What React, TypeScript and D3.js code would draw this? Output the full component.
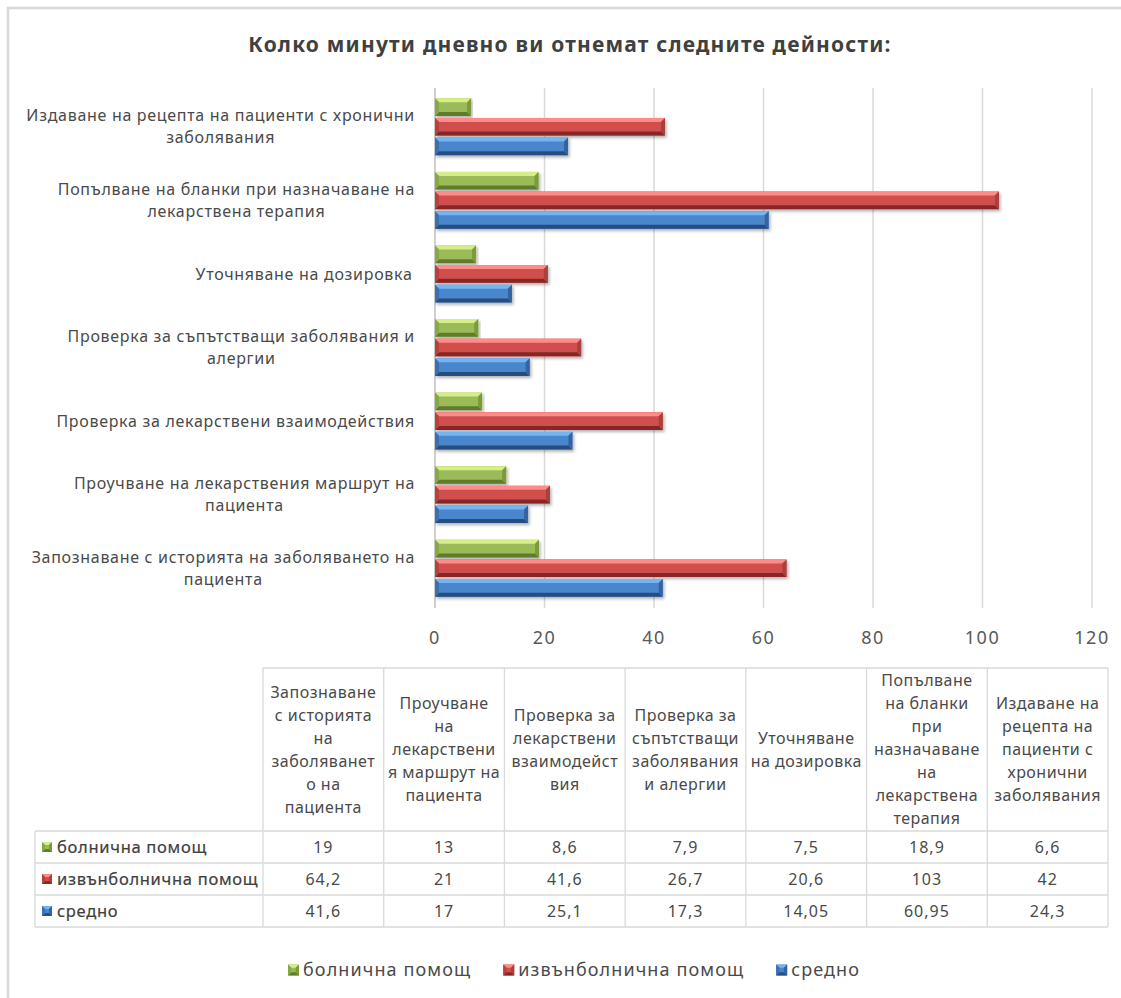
import React from "react";
import * as d3 from "d3";

const categories = [
  "Запознаване с историята на заболяването на пациента",
  "Проучване на лекарствения маршрут на пациента",
  "Проверка за лекарствени взаимодействия",
  "Проверка за съпътстващи заболявания и алергии",
  "Уточняване на дозировка",
  "Попълване на бланки при назначаване на лекарствена терапия",
  "Издаване на рецепта на пациенти с хронични заболявания",
];

const axisLabelLines = [
  ["Запознаване с историята на заболяването на", "пациента"],
  ["Проучване на лекарствения маршрут на", "пациента"],
  ["Проверка за лекарствени взаимодействия"],
  ["Проверка за съпътстващи заболявания и", "алергии"],
  ["Уточняване на дозировка "],
  ["Попълване на бланки при назначаване на", "лекарствена терапия"],
  ["Издаване на рецепта на пациенти с хронични", "заболявания"],
];

const tableHeaderLines = [
  ["Запознаване", "с историята", "на", "заболяванет", "о на", "пациента"],
  ["Проучване", "на", "лекарствени", "я маршрут на", "пациента"],
  ["Проверка за", "лекарствени", "взаимодейст", "вия"],
  ["Проверка за", "съпътстващи", "заболявания", "и алергии"],
  ["Уточняване", "на дозировка"],
  ["Попълване", "на бланки", "при", "назначаване", "на", "лекарствена", "терапия"],
  ["Издаване на", "рецепта на", "пациенти с", "хронични", "заболявания"],
];

const seriesNames = ["болнична помощ", "извънболнична помощ", "средно"];
const hospital = [19, 13, 8.6, 7.9, 7.5, 18.9, 6.6];
const outpatient = [64.2, 21, 41.6, 26.7, 20.6, 103, 42];
const average = [41.6, 17, 25.1, 17.3, 14.05, 60.95, 24.3];
const xTicks = [0, 20, 40, 60, 80, 100, 120];
const title = "Колко минути дневно ви отнемат следните дейности:";

const seriesValues = [hospital, outpatient, average];

const palettes = [
  { light: "#d6ee86", base: "#9bbb59", mid: "#86a845", dark: "#607c2c", side: "#7a9a3a" },
  { light: "#ff8a87", base: "#d0504d", mid: "#b8403d", dark: "#872826", side: "#a8403c" },
  { light: "#74b4f2", base: "#4a86cc", mid: "#3b6fb0", dark: "#284d80", side: "#36649f" },
];

const FONT = "'Noto Sans', 'DejaVu Sans', sans-serif";
const TEXT = "#404040";
const LABEL = "#4a4a4a";

let _ctx: CanvasRenderingContext2D | null = null;
function measure(text: string, size: number, ls = 0, weight = "normal") {
  if (!_ctx) {
    const c = document.createElement("canvas");
    _ctx = c.getContext("2d");
  }
  const base = _ctx
    ? ((_ctx.font = `${weight} ${size}px 'Noto Sans'`), _ctx.measureText(text).width)
    : text.length * size * 0.55;
  return base + ls * text.length;
}

const fmt = (v: number) => String(v).replace(".", ",");

function BevelBar({ x0, x1, y, h, p, b = 4 }: any) {
  const y0 = y;
  const y1 = y + h;
  const bb = Math.min(b, (x1 - x0) / 2);
  return (
    <g filter="url(#shadow)">
      <rect x={x0} y={y0} width={x1 - x0} height={h} fill={p.base} />
      <polygon
        points={`${x0},${y0} ${x1},${y0} ${x1 - bb},${y0 + b} ${x0 + bb},${y0 + b}`}
        fill={p.light}
      />
      <polygon
        points={`${x0},${y1} ${x1},${y1} ${x1 - bb},${y1 - b} ${x0 + bb},${y1 - b}`}
        fill={p.dark}
      />
      <polygon
        points={`${x1},${y0} ${x1},${y1} ${x1 - bb},${y1 - b} ${x1 - bb},${y0 + b}`}
        fill={p.side}
      />
      <polygon
        points={`${x0},${y0} ${x0},${y1} ${x0 + bb},${y1 - b} ${x0 + bb},${y0 + b}`}
        fill={p.mid}
      />
    </g>
  );
}

function Marker({ x, y, s, p }: any) {
  const b = s * 0.3;
  return (
    <g>
      <rect x={x} y={y} width={s} height={s} fill={p.base} />
      <polygon points={`${x},${y} ${x + s},${y} ${x + s - b},${y + b} ${x + b},${y + b}`} fill={p.light} />
      <polygon points={`${x},${y + s} ${x + s},${y + s} ${x + s - b},${y + s - b} ${x + b},${y + s - b}`} fill={p.dark} />
      <polygon points={`${x + s},${y} ${x + s},${y + s} ${x + s - b},${y + s - b} ${x + s - b},${y + b}`} fill={p.side} />
      <polygon points={`${x},${y} ${x},${y + s} ${x + b},${y + s - b} ${x + b},${y + b}`} fill={p.mid} />
    </g>
  );
}

export default function App() {
  const W = 1121;
  const H = 998;
  const plotLeft = 435;
  const plotRight = 1092;
  const plotTop = 90;
  const plotBottom = 605;

  const x = d3.scaleLinear().domain([0, 120]).range([plotLeft, plotRight]);
  const y = d3
    .scaleBand<string>()
    .domain([...categories].reverse())
    .range([plotTop, plotBottom])
    .paddingInner(0.226)
    .paddingOuter(0.113);
  const ys = d3
    .scaleBand<string>()
    .domain(seriesNames)
    .range([0, y.bandwidth()])
    .paddingInner(0.1);

  const labelRight = 415;
  const labelSize = 16;
  const labelLS = 0.7;
  const labelLH = 22;

  // table
  const tLeft = 35;
  const tColStart = 263;
  const tRight = 1108;
  const tHeadTop = 668;
  const tHeadBottom = 831;
  const rowH = 32;
  const cols = d3.scaleBand<string>().domain(categories).range([tColStart, tRight]);
  const rows = d3
    .scaleBand<string>()
    .domain(seriesNames)
    .range([tHeadBottom, tHeadBottom + rowH * seriesNames.length]);
  const tBottom = tHeadBottom + rowH * seriesNames.length;
  const grid = "#d9d9d9";
  const headSize = 16;
  const headLS = 0.5;
  const headLH = 23;

  // legend
  const legSize = 18;
  const legLS = 1.1;
  const legMarker = 11;
  const legGap = 4;
  const legSpacing = 32;
  const legWidths = seriesNames.map((s) => legMarker + legGap + measure(s, legSize, legLS));
  const legTotal = d3.sum(legWidths) + legSpacing * (seriesNames.length - 1);
  let legX = 574 - legTotal / 2;
  const legStarts = legWidths.map((w) => {
    const s = legX;
    legX += w + legSpacing;
    return s;
  });
  const legY = 970;

  return (
    <svg
      width={W}
      height={H}
      style={{ position: "absolute", left: 0, top: 0, display: "block", fontFamily: FONT }}
    >
      <defs>
        <filter id="shadow" x="-5%" y="-30%" width="110%" height="180%">
          <feDropShadow dx="1.5" dy="2" stdDeviation="1.5" floodColor="#000" floodOpacity="0.3" />
        </filter>
      </defs>
      <rect x={0} y={0} width={W} height={H} fill="#fff" />
      <rect x={8} y={8} width={W + 50} height={H + 50} fill="#fff" stroke={grid} strokeWidth={2.5} />

      <text
        x={570}
        y={52}
        textAnchor="middle"
        fontSize={21}
        fontWeight="bold"
        fill={TEXT}
        style={{ letterSpacing: "1.2px" }}
      >
        {title}
      </text>

      {/* gridlines */}
      {xTicks.map((t) => (
        <line
          key={t}
          x1={x(t)}
          x2={x(t)}
          y1={plotTop - 2}
          y2={plotBottom + 3}
          stroke={t === 0 ? "#bfbfbf" : "#d9d9d9"}
          strokeWidth={1.5}
        />
      ))}
      {xTicks.map((t) => (
        <text
          key={"t" + t}
          x={x(t)}
          y={644}
          textAnchor="middle"
          fontSize={18}
          fill="#595959"
          style={{ letterSpacing: "1.5px" }}
        >
          {t}
        </text>
      ))}

      {/* category labels */}
      {categories.map((c, i) => {
        const lines = axisLabelLines[i];
        const wMax = d3.max(lines, (l) => measure(l, labelSize, labelLS)) || 0;
        const cx = labelRight - wMax / 2;
        const cy = (y(c) || 0) + y.bandwidth() / 2;
        const startY = cy - ((lines.length - 1) * labelLH) / 2;
        return (
          <text
            key={c}
            textAnchor="middle"
            fontSize={labelSize}
            fill={LABEL}
            style={{ letterSpacing: `${labelLS}px` }}
          >
            {lines.map((l, j) => (
              <tspan key={j} x={cx} y={startY + j * labelLH} dy="0.35em">
                {l}
              </tspan>
            ))}
          </text>
        );
      })}

      {/* bars */}
      {categories.map((c, i) =>
        seriesNames.map((s, k) => (
          <BevelBar
            key={c + s}
            x0={x(0)}
            x1={x(seriesValues[k][i])}
            y={(y(c) || 0) + (ys(s) || 0)}
            h={ys.bandwidth()}
            p={palettes[k]}
          />
        ))
      )}

      {/* data table */}
      <g stroke={grid} strokeWidth={1.3} fill="none">
        <line x1={tColStart} x2={tRight} y1={tHeadTop} y2={tHeadTop} />
        {[...seriesNames, "end"].map((s, k) => {
          const yy = tHeadBottom + k * rowH;
          return <line key={"h" + k} x1={tLeft} x2={tRight} y1={yy} y2={yy} />;
        })}
        <line x1={tLeft} x2={tLeft} y1={tHeadBottom} y2={tBottom} />
        {categories.map((c) => (
          <line key={"v" + c} x1={cols(c)} x2={cols(c)} y1={tHeadTop} y2={tBottom} />
        ))}
        <line x1={tRight} x2={tRight} y1={tHeadTop} y2={tBottom} />
      </g>
      {categories.map((c, i) => {
        const lines = tableHeaderLines[i];
        const cx = (cols(c) || 0) + cols.bandwidth() / 2;
        const cy = (tHeadTop + tHeadBottom) / 2;
        const startY = cy - ((lines.length - 1) * headLH) / 2;
        return (
          <text
            key={"th" + c}
            textAnchor="middle"
            fontSize={headSize}
            fill={LABEL}
            style={{ letterSpacing: `${headLS}px` }}
          >
            {lines.map((l, j) => (
              <tspan key={j} x={cx} y={startY + j * headLH} dy="0.35em">
                {l}
              </tspan>
            ))}
          </text>
        );
      })}
      {seriesNames.map((s, k) => {
        const ry = (rows(s) || 0) + rows.bandwidth() / 2;
        return (
          <g key={"row" + s}>
            <Marker x={42} y={ry - 5} s={10} p={palettes[k]} />
            <text
              x={57}
              y={ry}
              dy="0.35em"
              fontSize={16.5}
              fill={TEXT}
              stroke={TEXT}
              strokeWidth={0.2}
              style={{ letterSpacing: "0.7px" }}
            >
              {s}
            </text>
            {categories.map((c, i) => (
              <text
                key={c}
                x={(cols(c) || 0) + cols.bandwidth() / 2}
                y={ry}
                dy="0.35em"
                textAnchor="middle"
                fontSize={16}
                fill={LABEL}
                style={{ letterSpacing: "1px" }}
              >
                {fmt(seriesValues[k][i])}
              </text>
            ))}
          </g>
        );
      })}

      {/* legend */}
      {seriesNames.map((s, k) => (
        <g key={"leg" + s}>
          <Marker x={legStarts[k]} y={legY - legMarker / 2} s={legMarker} p={palettes[k]} />
          <text
            x={legStarts[k] + legMarker + legGap}
            y={legY}
            dy="0.35em"
            fontSize={legSize}
            fill={LABEL}
            style={{ letterSpacing: `${legLS}px` }}
          >
            {s}
          </text>
        </g>
      ))}
    </svg>
  );
}
